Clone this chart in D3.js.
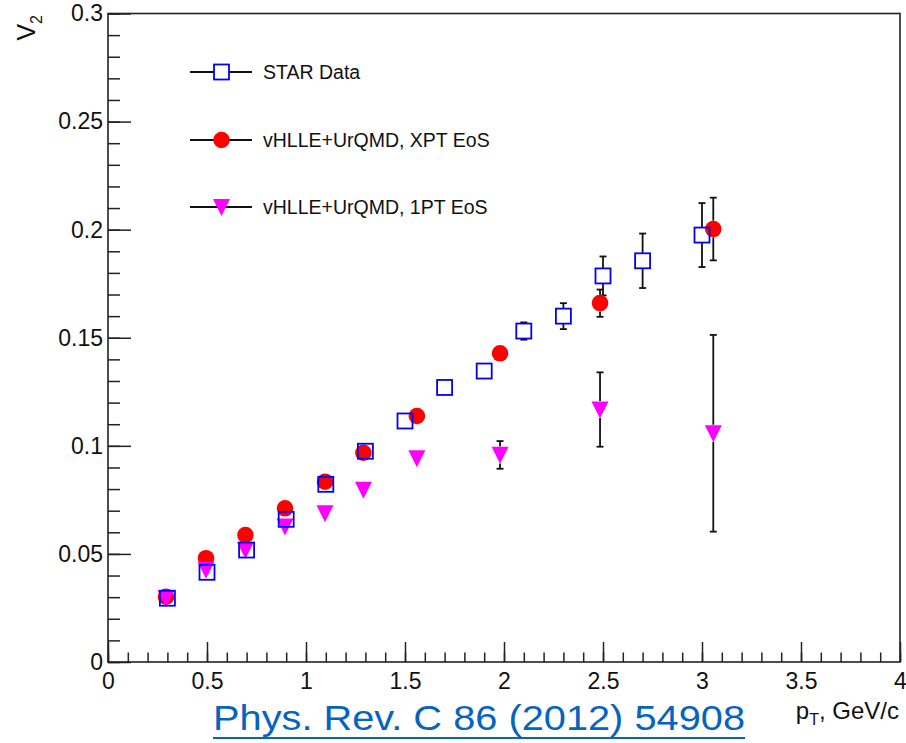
<!DOCTYPE html>
<html>
<head>
<meta charset="utf-8">
<script src="https://cdn.jsdelivr.net/npm/d3@7"></script>
<style>
  html, body { margin: 0; padding: 0; background: #fff; }
  svg { display: block; }
  text { font-family: "Liberation Sans", Arial, Helvetica, sans-serif; fill: #111; }
</style>
</head>
<body>
<svg id="chart" width="906" height="743"></svg>
<script>
// ---- data ----
const starPt   = [0.3, 0.5, 0.7, 0.9, 1.1, 1.3, 1.5, 1.7, 1.9, 2.1, 2.3, 2.5, 2.7, 3.0];
const starV2   = [0.0295, 0.0415, 0.0518, 0.066, 0.0822, 0.0975, 0.1115, 0.127, 0.1346, 0.1531, 0.160, 0.1786, 0.1856, 0.1975];
const starErr  = [0.001, 0.001, 0.001, 0.0015, 0.002, 0.002, 0.002, 0.003, 0.003, 0.004, 0.006, 0.009, 0.0126, 0.0148];

const modelPt  = [0.293, 0.495, 0.694, 0.894, 1.096, 1.29, 1.56, 1.98, 2.485, 3.057];
const xptV2    = [0.0302, 0.048, 0.0587, 0.0711, 0.0834, 0.0968, 0.1138, 0.1428, 0.166, 0.2003];
const xptErr   = [0.001, 0.001, 0.001, 0.001, 0.001, 0.001, 0.002, 0.002, 0.0063, 0.0145];
const onePtV2  = [0.0295, 0.0426, 0.0518, 0.0626, 0.0688, 0.0796, 0.0942, 0.0958, 0.1168, 0.1058];
const onePtErr = [0.001, 0.001, 0.001, 0.001, 0.001, 0.001, 0.002, 0.0064, 0.0172, 0.0455];

const xMajorTicks = [0, 0.5, 1, 1.5, 2, 2.5, 3, 3.5, 4];
const xTickLabels = ["0", "0.5", "1", "1.5", "2", "2.5", "3", "3.5", "4"];
const yMajorTicks = [0, 0.05, 0.1, 0.15, 0.2, 0.25, 0.3];
const yTickLabels = ["0", "0.05", "0.1", "0.15", "0.2", "0.25", "0.3"];

const legendLabels = ["STAR Data", "vHLLE+UrQMD, XPT EoS", "vHLLE+UrQMD, 1PT EoS"];
const citation = "Phys. Rev. C 86 (2012) 54908";

// ---- layout ----
const L = 108, R = 900, T = 13.5, B = 662;
const svg = d3.select("#chart");
const x = d3.scaleLinear().domain([0, 4]).range([L, R]);
const y = d3.scaleLinear().domain([0, 0.3]).range([B, T]);

const axisColor = "#222";

// minor ticks
const xMinor = d3.range(0, 4.0001, 0.1).map(v => +v.toFixed(2));
const yMinor = d3.range(0, 0.30001, 0.01).map(v => +v.toFixed(3));

const gxMinor = svg.append("g").attr("transform", `translate(0,${B})`)
  .call(d3.axisBottom(x).tickValues(xMinor).tickSizeInner(-9.5).tickSizeOuter(0).tickFormat(""));
const gx = svg.append("g").attr("transform", `translate(0,${B})`)
  .call(d3.axisBottom(x).tickValues(xMajorTicks).tickSizeInner(-20).tickSizeOuter(0).tickPadding(10.5)
    .tickFormat((d, i) => xTickLabels[i]));
const gyMinor = svg.append("g").attr("transform", `translate(${L},0)`)
  .call(d3.axisLeft(y).tickValues(yMinor).tickSizeInner(-12).tickSizeOuter(0).tickFormat(""));
const gy = svg.append("g").attr("transform", `translate(${L},0)`)
  .call(d3.axisLeft(y).tickValues(yMajorTicks).tickSizeInner(-23).tickSizeOuter(0).tickPadding(5)
    .tickFormat((d, i) => yTickLabels[i]));

[gxMinor, gx, gyMinor, gy].forEach(g => {
  g.selectAll(".domain").remove();
  g.selectAll("line").attr("stroke", axisColor).attr("stroke-width", 1.5);
  g.selectAll("text").style("font-size", "23px").attr("fill", "#111")
    .style("font-family", '"Liberation Sans", Arial, sans-serif');
});

// frame
svg.append("rect").attr("x", L).attr("y", T).attr("width", R - L).attr("height", B - T)
  .attr("fill", "none").attr("stroke", axisColor).attr("stroke-width", 1.6);

// axis titles
const yt = svg.append("text").attr("transform", `translate(35,15) rotate(-90)`)
  .attr("text-anchor", "end").style("font-size", "25px");
yt.append("tspan").text("V");
yt.append("tspan").attr("dy", 7).style("font-size", "16px").text("2");

const xt = svg.append("text").attr("x", 899).attr("y", 719).attr("text-anchor", "end")
  .style("font-size", "24px");
xt.append("tspan").text("p");
xt.append("tspan").attr("dy", 6).style("font-size", "16px").text("T");
xt.append("tspan").attr("dy", -6).text(", GeV/c");

// ---- markers ----
const plot = svg.append("g");
const sqHalf = 7.5, circR = 8.3, triHalf = 8.5;

function errBars(pts, vals, errs, half) {
  const g = plot.append("g").attr("stroke", "#111").attr("stroke-width", 1.8);
  pts.forEach((p, i) => {
    const cx = x(p), cy = y(vals[i]);
    const top = y(vals[i] + errs[i]), bot = y(vals[i] - errs[i]);
    if (cy - top > half + 0.5) {
      g.append("line").attr("x1", cx).attr("x2", cx).attr("y1", top).attr("y2", cy - half);
      g.append("line").attr("x1", cx - 3.5).attr("x2", cx + 3.5).attr("y1", top).attr("y2", top);
    }
    if (bot - cy > half + 0.5) {
      g.append("line").attr("x1", cx).attr("x2", cx).attr("y1", cy + half).attr("y2", bot);
      g.append("line").attr("x1", cx - 3.5).attr("x2", cx + 3.5).attr("y1", bot).attr("y2", bot);
    }
  });
}

const triPath = h => `M${-h},${-h * 0.95}L${h},${-h * 0.95}L0,${h * 1.05}Z`;

// draw error bars first
errBars(starPt, starV2, starErr, sqHalf);
errBars(modelPt, xptV2, xptErr, circR);
errBars(modelPt, onePtV2, onePtErr, triHalf);

// red circles
plot.append("g").selectAll("circle").data(modelPt).join("circle")
  .attr("cx", d => x(d)).attr("cy", (d, i) => y(xptV2[i])).attr("r", circR)
  .attr("fill", "#ff0000");
// magenta triangles
plot.append("g").selectAll("path").data(modelPt).join("path")
  .attr("transform", (d, i) => `translate(${x(d)},${y(onePtV2[i])})`)
  .attr("d", triPath(triHalf)).attr("fill", "#ff00ff");
// blue open squares
plot.append("g").selectAll("rect").data(starPt).join("rect")
  .attr("x", d => x(d) - sqHalf).attr("y", (d, i) => y(starV2[i]) - sqHalf)
  .attr("width", 2 * sqHalf).attr("height", 2 * sqHalf)
  .attr("fill", "none").attr("stroke", "#0000ff").attr("stroke-width", 1.8);

// ---- legend ----
const legY = [72, 140, 207];
const leg = svg.append("g");
legendLabels.forEach((lab, i) => {
  const gy0 = legY[i];
  leg.append("line").attr("x1", 190).attr("x2", 252).attr("y1", gy0).attr("y2", gy0)
    .attr("stroke", "#111").attr("stroke-width", 1.8);
  if (i === 0) {
    leg.append("rect").attr("x", 221.5 - sqHalf).attr("y", gy0 - sqHalf).attr("width", 2 * sqHalf)
      .attr("height", 2 * sqHalf).attr("fill", "#fff").attr("stroke", "#0000ff").attr("stroke-width", 1.8);
  } else if (i === 1) {
    leg.append("circle").attr("cx", 221.5).attr("cy", gy0).attr("r", circR).attr("fill", "#ff0000");
  } else {
    leg.append("path").attr("transform", `translate(221.5,${gy0})`).attr("d", triPath(triHalf)).attr("fill", "#ff00ff");
  }
  leg.append("text").attr("x", 263).attr("y", gy0).attr("dy", "0.35em")
    .style("font-size", "19.5px").text(lab);
});

// ---- citation ----
svg.append("text").attr("x", 213).attr("y", 730).attr("textLength", 532).attr("lengthAdjust", "spacingAndGlyphs")
  .style("font-size", "35px").style("fill", "#0563C1").text(citation);
svg.append("line").attr("x1", 213).attr("x2", 745).attr("y1", 738).attr("y2", 738)
  .attr("stroke", "#0563C1").attr("stroke-width", 2);
</script>
</body>
</html>
